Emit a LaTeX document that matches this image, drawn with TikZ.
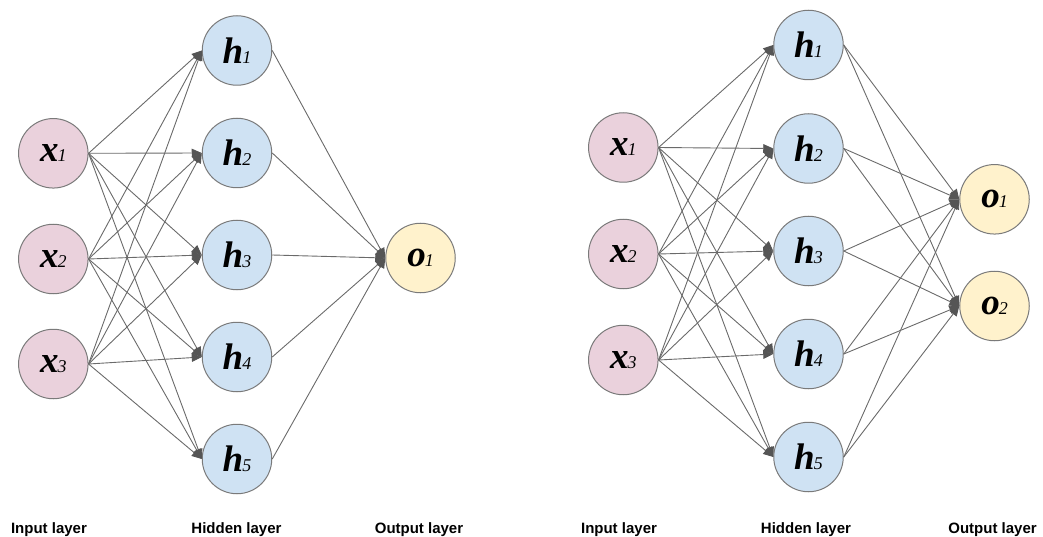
\documentclass[tikz,border=0pt]{standalone}
\usepackage{fontspec}
\setmainfont{Liberation Sans}
\newfontfamily\symfont{Liberation Serif}
\usetikzlibrary{arrows.meta}

\definecolor{inpink}{HTML}{EAD1DC}
\definecolor{hidblue}{HTML}{CFE2F3}
\definecolor{outyellow}{HTML}{FFF2CC}
\definecolor{rimgray}{HTML}{7A7A7A}
\definecolor{wiregray}{HTML}{6A6A6A}
\definecolor{tipgray}{HTML}{555555}

% unit symbol with a small italic index
\newcommand{\unitlabel}[2]{{\symfont\fontsize{37}{37}\selectfont\bfseries\itshape #1}\kern-1pt{\symfont\fontsize{18}{18}\selectfont\itshape #2}}

\tikzset{
  neuron/.style={circle, draw=rimgray, line width=1pt, minimum size=69.5pt, inner sep=0pt},
  innode/.style={neuron, fill=inpink},
  hidnode/.style={neuron, fill=hidblue},
  outnode/.style={neuron, fill=outyellow},
  wire/.style={draw=wiregray, line width=0.9pt,
    -{Triangle[length=10pt,width=8.5pt,fill=tipgray,color=tipgray]}},
  layername/.style={font=\fontsize{15}{18}\selectfont\bfseries, anchor=base, inner sep=0pt}
}

\begin{document}
\begin{tikzpicture}[x=1pt,y=-1pt]
  \useasboundingbox (0,0) rectangle (1043,537);

  % ---- network with one output ----
  \foreach \i/\y in {1/153.3, 2/259, 3/364}
    \node[innode] (Lx\i) at (53.3,\y) {\unitlabel{x}{\i}};
  \foreach \i/\y in {1/50.5, 2/153, 3/255, 4/357, 5/459}
    \node[hidnode] (Lh\i) at (237,\y) {\unitlabel{h}{\i}};
  \node[outnode] (Lo1) at (420.5,258) {\unitlabel{o}{1}};

  \foreach \i in {1,2,3}
    \foreach \j in {1,...,5}
      \draw[wire] (Lx\i.east) -- (Lh\j.west);
  \foreach \j in {1,...,5}
    \draw[wire] (Lh\j.east) -- (Lo1.west);

  \node[layername] (Lin)  at (49,533)  {Input layer};
  \node[layername] (Lhid) at (236.5,533) {Hidden layer};
  \node[layername] (Lout) at (419,533) {Output layer};

  % ---- network with two outputs ----
  \foreach \i/\y in {1/147.5, 2/254, 3/360}
    \node[innode] (Rx\i) at (623.3,\y) {\unitlabel{x}{\i}};
  \foreach \i/\y in {1/45, 2/148.5, 3/251, 4/354, 5/457}
    \node[hidnode] (Rh\i) at (808.5,\y) {\unitlabel{h}{\i}};
  \foreach \k/\y in {1/199.3, 2/306}
    \node[outnode] (Ro\k) at (994.5,\y) {\unitlabel{o}{\k}};

  \foreach \i in {1,2,3}
    \foreach \j in {1,...,5}
      \draw[wire] (Rx\i.east) -- (Rh\j.west);
  \foreach \j in {1,...,5}
    \foreach \k in {1,2}
      \draw[wire] (Rh\j.east) -- (Ro\k.west);

  \node[layername] (Rin)  at (619,533)  {Input layer};
  \node[layername] (Rhid) at (806,533)  {Hidden layer};
  \node[layername] (Rout) at (992.5,533) {Output layer};
\end{tikzpicture}
\end{document}
